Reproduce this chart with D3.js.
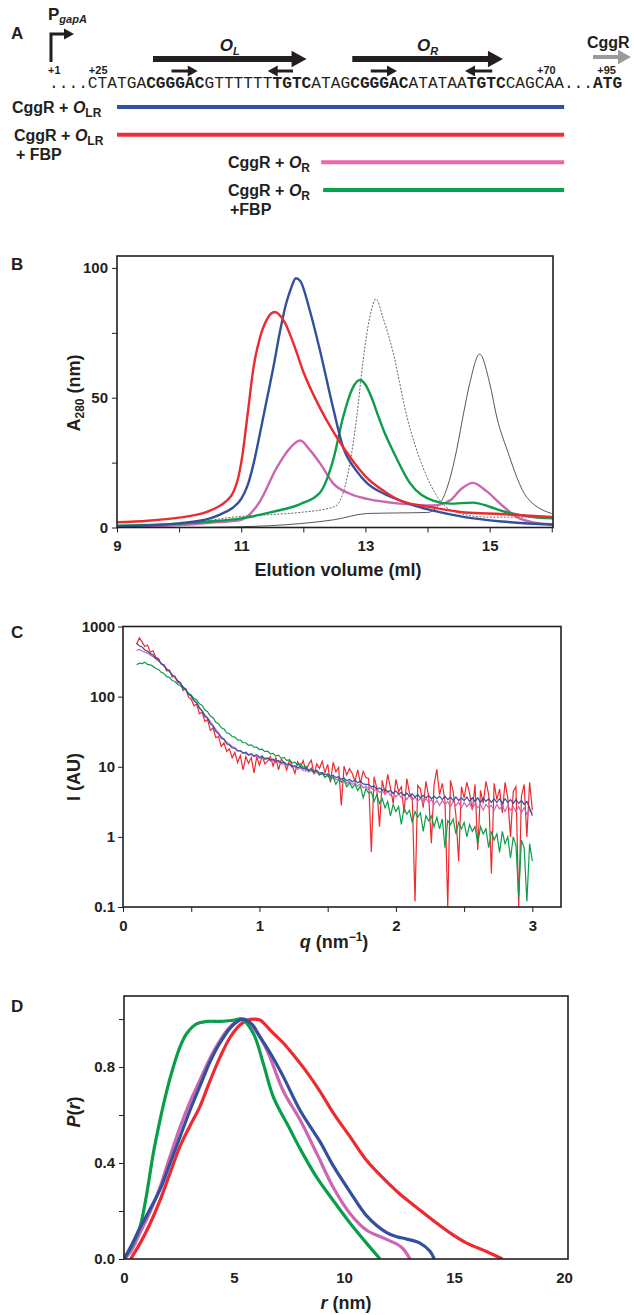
<!DOCTYPE html>
<html lang="en">
<head>
<meta charset="UTF-8">
<title>CggR operator binding</title>
<script src="https://cdn.jsdelivr.net/npm/d3@7"></script>
<style>
  body { margin: 0; background: #fff; }
  svg text { font-family: "Liberation Sans", Arial, sans-serif; font-weight: bold; fill: #231f20; }
  svg text.seq { font-family: "Liberation Mono", "Courier New", monospace; font-weight: normal; }
  .axis path { display: none; }
  .axis line { stroke: #231f20; stroke-width: 1; }
</style>
</head>
<body>
<svg id="fig" width="634" height="1315"></svg>
<script>
// ---------- data: panel A (sequence and constructs, in nucleotide columns) ----------
var seqParts = ["....CTATGA", "CGGGAC", "GTTTTTT", "TGTC", "ATAG", "CGGGAC", "ATATAA", "TGTC", "CAGCAA...", "ATG"];
var seqBold  = [0, 1, 0, 1, 0, 1, 0, 1, 0, 1];
var posNames = ["+1", "+25", "+70", "+95"];
var posCols  = [-0.1, 4.1, 50.2, 56.4];
var operatorNames = ["L", "R"];
var operatorFrom  = [10.7, 31.2];
var operatorTo    = [26.5, 46.7];
var halfFrom = [12.6, 25.1, 33.1, 45.6];
var halfTo   = [15.3, 22.5, 35.8, 42.8];
var constructSite = ["LR", "LR", "R", "R"];
var constructFBP  = [false, true, false, true];
var constructFrom = [7, 7, 28, 28.2];
var constructTo   = [53, 53, 53, 53];

// ---------- data: panel B (elution profiles) ----------
var blueVol = [9, 9.5, 10, 10.5, 10.75, 10.87, 11.0, 11.1, 11.2, 11.3, 11.41, 11.52, 11.62, 11.72, 11.8, 11.88, 11.95, 12.1, 12.27, 12.48, 12.64, 12.85, 13.03, 13.3, 13.56, 13.8, 14.09, 14.6, 15.2, 16.05];
var blueA   = [0.5, 0.8, 1.6, 3.5, 6, 7.7, 11, 16, 24.7, 36, 49, 62, 75, 86, 92, 96, 95, 84, 68, 46, 31, 22, 17, 13, 10.4, 8.3, 6.5, 4, 2.3, 1];
var redVol  = [9, 9.5, 10, 10.4, 10.6, 10.75, 10.87, 10.95, 11.02, 11.1, 11.2, 11.3, 11.41, 11.54, 11.7, 11.84, 12.0, 12.27, 12.48, 12.64, 12.85, 13.03, 13.3, 13.56, 14.09, 14.6, 15.17, 16.05];
var redA    = [2, 2.6, 3.8, 5.6, 7.6, 10, 13.5, 19, 28, 43, 62, 73, 80, 83, 79, 71, 60, 46, 37, 31, 24, 19, 14, 10.4, 7.7, 5.8, 5.2, 4];
var pinkVol = [9, 9.5, 10, 10.5, 11.0, 11.3, 11.57, 11.8, 11.95, 12.1, 12.27, 12.48, 12.75, 13.03, 13.56, 14.09, 14.36, 14.55, 14.73, 14.95, 15.17, 15.44, 15.7, 16.05];
var pinkA   = [0.3, 0.5, 0.9, 1.8, 3, 10, 23, 31, 33.5, 30, 24.7, 17, 13, 11, 9.2, 8.5, 10.4, 15, 17.2, 14, 9.2, 4, 2, 1.2];
var greenVol = [9, 9.5, 10, 10.5, 11, 11.5, 11.95, 12.27, 12.48, 12.64, 12.78, 12.91, 13.0, 13.1, 13.19, 13.3, 13.44, 13.72, 14.09, 14.36, 14.73, 15.0, 15.17, 15.7, 16.05];
var greenA   = [0.7, 1, 1.5, 2.3, 3.5, 6, 9, 13.5, 26, 42.5, 53, 56.8, 55, 50, 44, 37, 29.7, 17, 10.4, 9.2, 9.6, 8, 6.6, 4, 3.5];
var dottedVol = [9, 10, 10.87, 11.5, 11.95, 12.5, 12.65, 12.75, 12.86, 12.96, 13.07, 13.17, 13.28, 13.44, 13.67, 13.93, 14.2, 14.52, 14.96, 16.05];
var dottedA   = [0, 1, 4, 5, 5.8, 8, 14, 24.7, 42.5, 64, 81, 88, 81, 68, 42.5, 23, 10.4, 5.4, 4, 4];
var thinVol = [9, 10, 11, 11.95, 12.5, 13.03, 13.5, 14.0, 14.2, 14.35, 14.47, 14.58, 14.68, 14.84, 15.0, 15.12, 15.28, 15.6, 16.05];
var thinA   = [0, 0, 0.3, 1.5, 3, 5.4, 5.6, 5.8, 9.2, 18, 30, 44, 55.6, 66.8, 55.6, 42, 30, 11.6, 5];

// ---------- data: panel C (scattering, q = 0.10 ... 3.00 in steps of 0.02) ----------
var qStart = 0.10, qStep = 0.02;
var blueI = [
  575, 528, 510, 462, 446, 410, 395, 352, 336, 296,
  280, 246, 232, 204, 193, 168, 158, 137, 127, 109,
  102, 87, 82, 68, 62, 52, 49, 41, 38, 32,
  29.5, 25.4, 24.6, 21.3, 20.4, 18.5, 18.4, 16.7, 17.0, 15.6,
  16.1, 14.8, 15.4, 14.3, 14.9, 13.7, 14.0, 13.1, 13.4, 12.5,
  12.9, 11.9, 12.3, 11.4, 11.6, 10.8, 11.0, 10.1, 10.4, 9.7,
  10.0, 9.4, 9.6, 8.9, 9.1, 8.5, 8.9, 8.1, 8.3, 7.7,
  7.9, 7.3, 7.6, 7.0, 7.2, 6.6, 6.9, 6.3, 6.6, 6.1,
  6.4, 5.9, 6.2, 5.7, 5.6, 5.6, 5.2, 5.3, 4.8, 5.0,
  4.6, 4.8, 4.4, 4.6, 4.2, 4.5, 4.1, 4.3, 3.9, 4.2,
  3.8, 4.1, 3.7, 4.0, 3.6, 3.9, 3.6, 3.9, 3.5, 3.8,
  3.5, 3.8, 3.4, 3.8, 3.4, 3.7, 3.3, 3.7, 3.3, 3.6,
  3.3, 3.7, 3.2, 3.6, 3.2, 3.6, 3.1, 3.6, 3.2, 3.5,
  3.1, 3.5, 3.1, 3.5, 3.0, 3.5, 3.1, 3.4, 3.0, 3.4,
  3.0, 3.3, 2.9, 3.2, 2.6, 2.0];
var pinkI = [
  455, 470, 448, 430, 418, 392, 372, 345, 322, 298,
  270, 250, 226, 208, 186, 170, 152, 139, 124, 111,
  100, 90, 81, 71, 63, 55, 50, 44, 39, 34,
  30.5, 27, 24.8, 22.6, 21, 19.4, 18.6, 17.2, 16.9, 15.8,
  15.5, 14.6, 15.0, 13.9, 14.3, 13.2, 13.6, 12.6, 13.0, 12.0,
  12.3, 11.4, 11.8, 10.9, 11.1, 10.3, 10.7, 9.7, 10.0, 9.2,
  9.6, 8.8, 9.2, 8.4, 8.8, 8.0, 8.3, 7.6, 7.9, 7.2,
  7.5, 6.8, 7.2, 6.5, 6.8, 6.1, 6.5, 5.8, 6.2, 5.6,
  5.9, 5.3, 5.7, 5.0, 5.3, 4.8, 5.1, 4.5, 4.9, 4.3,
  4.6, 4.0, 4.5, 3.9, 4.3, 3.7, 4.1, 3.6, 4.0, 3.4,
  3.9, 3.3, 3.7, 3.2, 3.6, 3.0, 3.5, 3.1, 3.4, 2.9,
  3.3, 2.8, 3.3, 2.9, 3.2, 2.7, 3.2, 2.8, 3.1, 2.6,
  3.1, 2.7, 3.0, 2.5, 3.0, 2.6, 2.9, 2.4, 2.9, 2.6,
  2.8, 2.4, 2.9, 2.5, 2.8, 2.3, 2.8, 2.4, 2.7, 2.3,
  2.7, 2.2, 2.6, 2.1, 2.4, 2.2];
var redI = [
  560, 690, 600, 520, 545, 430, 450, 365, 350, 290,
  285, 232, 240, 190, 196, 158, 160, 122, 130, 98,
  92, 74, 78, 57, 60, 44, 47, 33, 36, 26,
  27, 19.5, 22, 16.5, 18, 13.5, 16, 11.5, 14.5, 9.0,
  14, 11.2, 13.5, 8.2, 13.8, 10.5, 14.2, 11.0, 12.0, 14.0,
  10.2, 13.5, 9.0, 12.8, 11.5, 9.0, 12.5, 10.4, 8.0, 11.8,
  9.8, 12.2, 8.8, 10.8, 12.4, 7.8, 11.0, 9.5, 12.0, 8.2,
  10.8, 6.0, 11.6, 8.5, 9.8, 2.8, 10.2, 7.6, 9.4, 8.0,
  6.2, 9.0, 5.8, 8.6, 7.0, 6.8, 0.61, 7.2, 5.0, 1.4,
  6.4, 4.2, 7.8, 5.0, 3.0, 6.6, 4.4, 5.2, 2.2, 6.8,
  4.2, 3.6, 0.12, 5.4, 4.8, 2.6, 6.2, 3.8, 0.81, 5.6,
  9.2, 4.0, 5.8, 3.2, 0.1, 6.4, 4.4, 2.0, 0.45, 5.2,
  3.6, 6.0, 4.2, 2.4, 5.6, 0.65, 4.6, 3.0, 6.2, 4.0,
  0.3, 5.8, 3.4, 4.8, 2.2, 6.0, 3.6, 1.0, 4.4, 5.2,
  0.1, 3.8, 5.6, 1.0, 6.0, 2.4];
var greenI = [
  285, 300, 296, 310, 288, 284, 270, 252, 244, 222,
  214, 193, 188, 170, 164, 150, 144, 130, 124, 111,
  106, 94, 90, 79, 75, 65, 61, 53, 50, 43,
  41, 36, 34.5, 30.5, 29.6, 27, 26.5, 24.2, 24, 22,
  22, 20.2, 20.5, 19, 19.1, 17.6, 17.8, 16.4, 16.7, 15.3,
  15.5, 14.3, 14.6, 13.2, 13.6, 12.3, 12.5, 11.4, 11.6, 10.6,
  11.0, 9.8, 10.2, 8.8, 9.6, 8.3, 8.9, 7.6, 8.2, 7.0,
  7.6, 6.5, 7.2, 5.6, 6.6, 6.0, 6.4, 5.2, 5.9, 5.0,
  5.6, 4.6, 5.3, 3.6, 4.9, 4.2, 4.4, 3.2, 4.0, 3.0,
  3.5, 2.6, 3.2, 2.0, 2.9, 2.3, 2.7, 1.5, 2.6, 2.1,
  2.4, 1.6, 2.3, 1.9, 2.2, 1.2, 2.0, 1.7, 2.0, 1.4,
  1.9, 1.3, 1.8, 0.7, 1.7, 1.5, 1.8, 1.1, 1.6, 1.3,
  1.6, 1.0, 1.5, 1.2, 1.4, 0.8, 1.4, 1.1, 1.3, 0.7,
  1.2, 0.9, 1.1, 0.6, 1.2, 0.8, 1.0, 0.5, 1.0, 0.75,
  0.14, 0.9, 0.7, 0.12, 0.8, 0.45];

// ---------- data: panel D (distance distributions) ----------
var greenR = [0, 0.42, 0.73, 1.03, 1.33, 1.64, 1.94, 2.24, 2.55, 2.85, 3.3, 3.76, 4.4, 4.97, 5.35, 5.88, 6.33, 6.79, 7.55, 8.0, 8.76, 9.5, 10.27, 11.03, 11.64];
var greenP = [0, 0.065, 0.135, 0.27, 0.44, 0.58, 0.70, 0.80, 0.885, 0.94, 0.98, 0.99, 0.99, 0.995, 1.0, 0.94, 0.815, 0.675, 0.54, 0.46, 0.34, 0.245, 0.15, 0.065, 0];
var pinkR = [0, 0.3, 0.73, 1.2, 1.64, 2.1, 2.55, 3.0, 3.45, 3.9, 4.36, 4.8, 5.27, 5.6, 6.0, 6.5, 7.24, 8.0, 8.76, 9.5, 10.27, 11.03, 11.8, 12.6, 13.0];
var pinkP = [0, 0.03, 0.11, 0.2, 0.30, 0.43, 0.55, 0.655, 0.745, 0.835, 0.91, 0.965, 1.0, 0.99, 0.95, 0.87, 0.70, 0.58, 0.44, 0.30, 0.19, 0.12, 0.087, 0.05, 0];
var blueR = [0, 0.3, 0.73, 1.2, 1.64, 2.1, 2.55, 3.0, 3.45, 3.9, 4.36, 4.9, 5.4, 5.8, 6.15, 6.7, 7.24, 8.0, 8.9, 9.5, 10.27, 11.03, 11.94, 12.4, 12.85, 13.45, 13.9, 14.1];
var blueP = [0, 0.05, 0.13, 0.21, 0.29, 0.40, 0.51, 0.62, 0.72, 0.82, 0.90, 0.97, 1.0, 0.98, 0.93, 0.85, 0.76, 0.62, 0.49, 0.39, 0.28, 0.18, 0.11, 0.093, 0.083, 0.066, 0.033, 0];
var redR = [0.3, 0.73, 1.2, 1.64, 2.1, 2.55, 3.0, 3.45, 3.9, 4.36, 4.8, 5.27, 5.6, 5.88, 6.2, 6.48, 6.85, 7.24, 7.7, 8.3, 8.9, 9.5, 10.27, 11.03, 11.8, 12.55, 13.3, 14.06, 14.8, 15.58, 16.5, 17.2];
var redP = [0, 0.065, 0.15, 0.245, 0.36, 0.47, 0.555, 0.635, 0.74, 0.84, 0.92, 0.975, 0.995, 1.0, 0.995, 0.97, 0.935, 0.90, 0.85, 0.78, 0.70, 0.61, 0.51, 0.41, 0.335, 0.27, 0.215, 0.16, 0.11, 0.066, 0.03, 0];

// colours
var cBlue = "#33509f", cRed = "#ec2a2f", cPink = "#cd66b1", cGreen = "#0b9e4a";
var ink = "#231f20";

var svg = d3.select("#fig");
svg.append("rect").attr("width", 634).attr("height", 1315).attr("fill", "#fff");

function zip(a, b) { return a.map(function(v, i) { return [v, b[i]]; }); }

function panelLetter(t, y) {
  svg.append("text").attr("x", 11).attr("y", y).attr("font-size", 17).text(t);
}

// helper for "CggR + O_xx" style labels
function constructLabel(g, x, y, site, fbp) {
  var t = g.append("text").attr("x", x).attr("y", y).attr("font-size", 16);
  t.append("tspan").text("CggR + ");
  t.append("tspan").attr("font-style", "italic").text("O");
  t.append("tspan").attr("font-size", 12).attr("dy", 4).text(site);
  if (fbp) {
    g.append("text").attr("x", x + 2).attr("y", y + 19).attr("font-size", 16)
      .text(site == "LR" ? "+ FBP" : "+FBP");
  }
}

function arrow(g, x1, x2, y, w, head, color) {
  var dir = x2 > x1 ? 1 : -1;
  g.append("line").attr("x1", x1).attr("x2", x2 - dir * head * 0.8).attr("y1", y).attr("y2", y)
    .attr("stroke", color).attr("stroke-width", w);
  var hh = head * 0.55;
  g.append("path")
    .attr("d", "M" + x2 + "," + y + "L" + (x2 - dir * head) + "," + (y - hh) + "L" + (x2 - dir * head) + "," + (y + hh) + "Z")
    .attr("fill", color);
}

// ================= Panel A =================
panelLetter("A", 39);
var gA = svg.append("g");
var nt = d3.scaleLinear().domain([0, 59]).range([49, 622.5]);

// promoter arrow
gA.append("path").attr("d", "M51,62V34H66").attr("fill", "none").attr("stroke", ink).attr("stroke-width", 3);
gA.append("path").attr("d", "M74,34L64,28.5L64,39.5Z").attr("fill", ink);
var pg = gA.append("text").attr("x", 48).attr("y", 20).attr("font-size", 17);
pg.append("tspan").text("P");
pg.append("tspan").attr("font-size", 11).attr("font-style", "italic").attr("dy", 3).text("gapA");

// operator arrows
operatorNames.forEach(function(n, i) {
  arrow(gA, nt(operatorFrom[i]), nt(operatorTo[i]), 59, 6, 15, ink);
  var cx = (nt(operatorFrom[i]) + nt(operatorTo[i])) / 2;
  var t = gA.append("text").attr("x", cx).attr("y", 51).attr("font-size", 17)
    .attr("font-style", "italic").attr("text-anchor", "middle");
  t.append("tspan").text("O");
  t.append("tspan").attr("font-size", 11).attr("dy", 4).text(n);
});
halfFrom.forEach(function(f, i) {
  arrow(gA, nt(f), nt(halfTo[i]), 71, 3, 10, ink);
});

// CggR gene arrow
arrow(gA, 593, 631, 57, 4, 13, "#9a9a9a");
gA.append("text").attr("x", 587).attr("y", 48).attr("font-size", 16).text("CggR");

// positions
posNames.forEach(function(p, i) {
  gA.append("text").attr("x", nt(posCols[i])).attr("y", 74).attr("font-size", 11).text(p);
});

// sequence
var seqText = gA.append("text").attr("class", "seq").attr("x", nt(0)).attr("y", 88).attr("font-size", 16.2)
  .attr("xml:space", "preserve");
seqParts.forEach(function(s, i) {
  seqText.append("tspan").attr("font-weight", seqBold[i] ? "bold" : "normal").text(s);
});

// constructs
var rowY = d3.scaleLinear().domain([0, 3]).range([107, 190]);
var constructColors = [cBlue, "#ec2f3a", "#f064aa", "#05a550"];
constructSite.forEach(function(site, i) {
  var y = rowY(i);
  gA.append("line").attr("x1", nt(constructFrom[i])).attr("x2", nt(constructTo[i]))
    .attr("y1", y).attr("y2", y).attr("stroke", constructColors[i]).attr("stroke-width", 4);
  var lx = i < 2 ? 12 + i * 2 : 228;
  constructLabel(gA, lx, y + 6, site, constructFBP[i]);
});

// axis helpers
function styleAxis(g, size) {
  g.attr("class", "axis");
  g.selectAll("text").attr("font-size", size).attr("fill", ink)
    .style("font-family", '"Liberation Sans", Arial, sans-serif').style("font-weight", "bold");
}
function box(g, x, y) {
  g.append("rect").attr("x", x.range()[0]).attr("y", y.range()[1])
    .attr("width", x.range()[1] - x.range()[0]).attr("height", y.range()[0] - y.range()[1])
    .attr("fill", "none").attr("stroke", ink).attr("stroke-width", 1.6);
}
function clip(id, x, y) {
  svg.append("clipPath").attr("id", id).append("rect")
    .attr("x", x.range()[0]).attr("y", y.range()[1])
    .attr("width", x.range()[1] - x.range()[0]).attr("height", y.range()[0] - y.range()[1]);
}

// ================= Panel B =================
panelLetter("B", 270);
var xB = d3.scaleLinear().domain([9, 16.02]).range([117, 553]);
var yB = d3.scaleLinear().domain([0, 104.6]).range([527.5, 256]);
clip("clipB", xB, yB);
var gB = svg.append("g");
var lineB = d3.line().x(function(d) { return xB(d[0]); }).y(function(d) { return yB(d[1]); }).curve(d3.curveMonotoneX);
var plotB = gB.append("g").attr("clip-path", "url(#clipB)");
plotB.append("path").datum(zip(thinVol, thinA)).attr("d", lineB).attr("fill", "none").attr("stroke", "#444").attr("stroke-width", 0.9);
plotB.append("path").datum(zip(dottedVol, dottedA)).attr("d", lineB).attr("fill", "none").attr("stroke", "#555").attr("stroke-width", 0.9).attr("stroke-dasharray", "2,1.5");
plotB.append("path").datum(zip(pinkVol, pinkA)).attr("d", lineB).attr("fill", "none").attr("stroke", cPink).attr("stroke-width", 2.4);
plotB.append("path").datum(zip(greenVol, greenA)).attr("d", lineB).attr("fill", "none").attr("stroke", cGreen).attr("stroke-width", 2.4);
plotB.append("path").datum(zip(blueVol, blueA)).attr("d", lineB).attr("fill", "none").attr("stroke", cBlue).attr("stroke-width", 2.4);
plotB.append("path").datum(zip(redVol, redA)).attr("d", lineB).attr("fill", "none").attr("stroke", cRed).attr("stroke-width", 2.4);

var axBx = gB.append("g").attr("transform", "translate(0," + yB(0) + ")")
  .call(d3.axisBottom(xB).tickValues([9, 10, 11, 12, 13, 14, 15, 16]).tickSize(5).tickPadding(8)
    .tickFormat(function(d) { return d % 2 ? d : ""; }));
styleAxis(axBx, 15);
var axBy = gB.append("g").attr("transform", "translate(" + xB(9) + ",0)")
  .call(d3.axisLeft(yB).tickValues([0, 25, 50, 75, 100]).tickSize(5).tickPadding(4)
    .tickFormat(function(d) { return d % 50 ? "" : d; }));
styleAxis(axBy, 15);
box(gB, xB, yB);
var tB = gB.append("text").attr("transform", "translate(80,393) rotate(-90)").attr("text-anchor", "middle").attr("font-size", 18);
tB.append("tspan").text("A");
tB.append("tspan").attr("font-size", 12).attr("dy", 4).text("280");
tB.append("tspan").attr("dy", -4).text(" (nm)");
gB.append("text").attr("x", 338).attr("y", 576).attr("text-anchor", "middle").attr("font-size", 18).text("Elution volume (ml)");

// ================= Panel C =================
panelLetter("C", 638);
var xC = d3.scaleLinear().domain([0, 3.21]).range([123, 561]);
var yC = d3.scaleLog().domain([0.1, 1000]).range([907, 626.5]);
clip("clipC", xC, yC);
var gC = svg.append("g");
var lineC = d3.line().x(function(d, i) { return xC(qStart + qStep * i); }).y(function(d) { return yC(d); });
var plotC = gC.append("g").attr("clip-path", "url(#clipC)");
[[redI, cRed], [pinkI, cPink], [greenI, cGreen], [blueI, cBlue]].forEach(function(s) {
  plotC.append("path").datum(s[0]).attr("d", lineC).attr("fill", "none").attr("stroke", s[1]).attr("stroke-width", 1.2);
});
var axCx = gC.append("g").attr("transform", "translate(0,907)")
  .call(d3.axisBottom(xC).tickValues([0, 0.5, 1, 1.5, 2, 2.5, 3]).tickSize(5).tickPadding(8)
    .tickFormat(function(d) { return d % 1 ? "" : d; }));
styleAxis(axCx, 15);
var axCy = gC.append("g").attr("transform", "translate(123,0)")
  .call(d3.axisLeft(yC).tickValues([0.1, 1, 10, 100, 1000]).tickSize(5).tickPadding(3)
    .tickFormat(function(d) { return d < 1 ? "0.1" : d3.format("d")(d); }));
styleAxis(axCy, 15);
box(gC, xC, yC);
gC.append("text").attr("transform", "translate(80,777) rotate(-90)").attr("text-anchor", "middle").attr("font-size", 18).text("I (AU)");
var tC = gC.append("text").attr("x", 334).attr("y", 948).attr("text-anchor", "middle").attr("font-size", 18);
tC.append("tspan").attr("font-style", "italic").text("q");
tC.append("tspan").text(" (nm");
tC.append("tspan").attr("font-size", 12).attr("dy", -7).text("\u22121");
tC.append("tspan").attr("dy", 7).text(")");

// ================= Panel D =================
panelLetter("D", 1012);
var xD = d3.scaleLinear().domain([0, 20.18]).range([124, 568]);
var yD = d3.scaleLinear().domain([0, 1.096]).range([1259, 996]);
clip("clipD", xD, yD);
var gD = svg.append("g");
var lineD = d3.line().x(function(d) { return xD(d[0]); }).y(function(d) { return yD(d[1]); }).curve(d3.curveCatmullRom.alpha(0.5));
var plotD = gD.append("g").attr("clip-path", "url(#clipD)");
[[redR, redP, cRed], [pinkR, pinkP, cPink], [greenR, greenP, cGreen], [blueR, blueP, cBlue]].forEach(function(s) {
  plotD.append("path").datum(zip(s[0], s[1])).attr("d", lineD).attr("fill", "none").attr("stroke", s[2])
    .attr("stroke-width", 3.2).attr("stroke-linejoin", "round");
});
var axDx = gD.append("g").attr("transform", "translate(0,1259)")
  .call(d3.axisBottom(xD).tickValues([0, 5, 10, 15, 20]).tickSize(0).tickPadding(13));
styleAxis(axDx, 15);
var axDy = gD.append("g").attr("transform", "translate(124,0)")
  .call(d3.axisLeft(yD).tickValues([0, 0.2, 0.4, 0.6, 0.8, 1.0]).tickSize(5).tickPadding(4)
    .tickFormat(function(d) { return Math.round(d * 10) % 4 ? "" : d3.format(".1f")(d); }));
styleAxis(axDy, 15);
box(gD, xD, yD);
var tD = gD.append("text").attr("transform", "translate(80,1112) rotate(-90)").attr("text-anchor", "middle").attr("font-size", 18);
tD.append("tspan").attr("font-style", "italic").text("P");
tD.append("tspan").text("(");
tD.append("tspan").attr("font-style", "italic").text("r");
tD.append("tspan").text(")");
var tDx = gD.append("text").attr("x", 346).attr("y", 1309).attr("text-anchor", "middle").attr("font-size", 18);
tDx.append("tspan").attr("font-style", "italic").text("r");
tDx.append("tspan").text(" (nm)");
</script>
</body>
</html>
